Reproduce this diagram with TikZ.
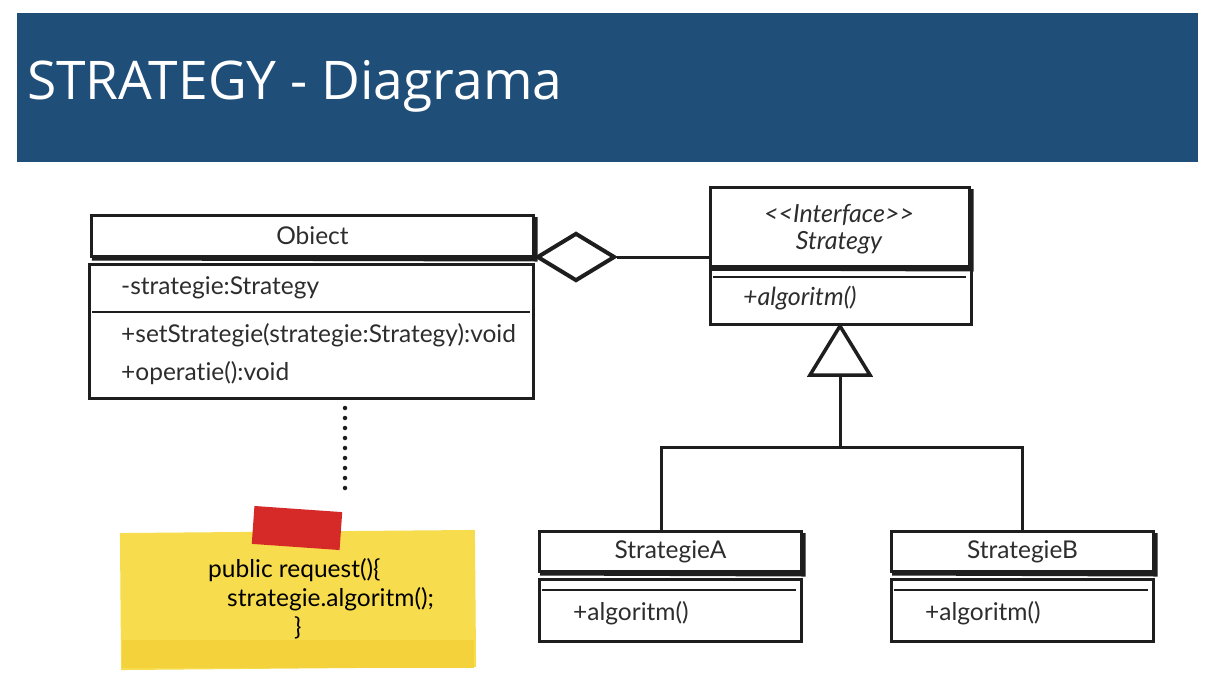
\documentclass[tikz,border=0pt]{standalone}
\usepackage{fontspec}
\usetikzlibrary{shapes.geometric}
\newfontfamily\titlefont{Open Sans}
\newfontfamily\umlfont[Ligatures=NoCommon]{Lato}
\definecolor{banner}{RGB}{31,78,121}
\definecolor{notey}{RGB}{247,220,78}
\definecolor{notey2}{RGB}{244,210,60}
\definecolor{tape}{RGB}{214,42,40}
\definecolor{ink}{RGB}{30,30,30}
\definecolor{txtc}{RGB}{45,45,45}
\tikzset{
  umlbox/.style={draw=ink, line width=3pt, anchor=north west, inner sep=0pt, fill=white},
  umlfnt/.style={font=\umlfont\fontsize{24.5}{28}\selectfont, text=txtc},
  umltxt/.style={umlfnt, anchor=west, inner sep=0pt},
  umlit/.style={font=\umlfont\itshape\fontsize{25}{28}\selectfont, text=txtc, inner sep=0pt},
  wire/.style={draw=ink, line width=3pt},
  sep/.style={draw=ink, line width=2.6pt},
  heavy/.style={draw=ink, line width=5pt},
  dots/.style={draw=ink, line width=4.5pt, line cap=round, dash pattern=on 0pt off 10pt},
}
\begin{document}
\begin{tikzpicture}[x=1pt,y=-1pt]
\useasboundingbox (0,0) rectangle (1215,698);
\fill[white] (0,0) rectangle (1215,698);
% banner
\fill[banner] (17,13) rectangle (1198,162);
\node[anchor=west, text=white, inner sep=0pt, font=\titlefont\fontsize{53.3}{60}\selectfont] (title) at (27,86) {STRATEGY - Diagrama};

% Obiect
\node[umlbox, umlfnt, minimum width=442, minimum height=41] (obh) at (90,214) {Obiect};
\node[umlbox, minimum width=444, minimum height=134] (obb) at (88,263) {};
\draw[sep] (92,312) -- (530,312);
\node[umltxt] (oa1) at (121,288) {-strategie:Strategy};
\node[umltxt] (oo1) at (121,335) {+setStrategie(strategie:Strategy):void};
\node[umltxt] (oo2) at (121,373) {+operatie():void};

% Strategy interface
\node[umlbox, minimum width=259, minimum height=79] (sth) at (709,186) {};
\node[umlit] (st1) at (839,215) {<<Interface>>};
\node[umlit] (st2) at (839,243) {Strategy};
\node[umlbox, minimum width=261, minimum height=55] (stb) at (709,268) {};
\draw[sep] (713,277) -- (966,277);
\node[umlit, anchor=west] (sto) at (743,298) {+algoritm()};

% aggregation
\node[diamond, draw=ink, line width=4pt, minimum width=78, minimum height=48, inner sep=0pt] (agg) at (576,257) {};
\draw[wire] (agg.east) -- (sth.west |- agg.east);

% inheritance
\coordinate (tapex) at (840,326);
\coordinate (tbase) at (840,375);
\draw[wire, line width=3.5pt, line join=miter] (tapex) -- (810,375) -- (870,375) -- cycle;
\coordinate (jn) at (840,447);

% StrategieA
\node[umlbox, umlfnt, minimum width=262, minimum height=40] (sah) at (538,530) {StrategieA};
\node[umlbox, minimum width=262, minimum height=62] (sab) at (538,578) {};
\draw[sep] (542,590) -- (796,590);
\node[umltxt] (sao) at (573,613) {+algoritm()};

% StrategieB
\node[umlbox, umlfnt, minimum width=262, minimum height=40] (sbh) at (890,530) {StrategieB};
\node[umlbox, minimum width=262, minimum height=62] (sbb) at (890,578) {};
\draw[sep] (894,590) -- (1148,590);
\node[umltxt] (sbo) at (925,613) {+algoritm()};

% heavy (shadow) edges of the header boxes
\foreach \b in {obh,sth,sah,sbh}{
  \draw[heavy] ([xshift=2pt]\b.south west) -- ([yshift=-1pt]\b.south east) -- ([yshift=-3pt]\b.north east);
}

\draw[wire] (tbase) -- (jn);
\draw[wire] (jn) -| ([xshift=-9pt]sah.north);
\draw[wire] (jn) -| (sbh.north);

% note
\node[fill=notey, minimum width=355, minimum height=137, inner sep=0pt, rotate=0.5] (note) at (298,600) {};
\fill[notey2] (122,640) rectangle (474,668);
\node[font=\umlfont\fontsize{24.5}{29}\selectfont, text=black, align=left, anchor=north west, inner sep=0pt] (code) at (208,558) {public request()\{\\\hspace{19pt}strategie.algoritm();\\\hspace{86pt}\}};
\node[fill=tape, minimum width=88, minimum height=38, inner sep=0pt, rotate=-4] (tp) at (297,528) {};
\coordinate (nt) at (345,493);
\draw[dots] (obb.south -| nt) ++(0,8) -- (nt);
\end{tikzpicture}
\end{document}
